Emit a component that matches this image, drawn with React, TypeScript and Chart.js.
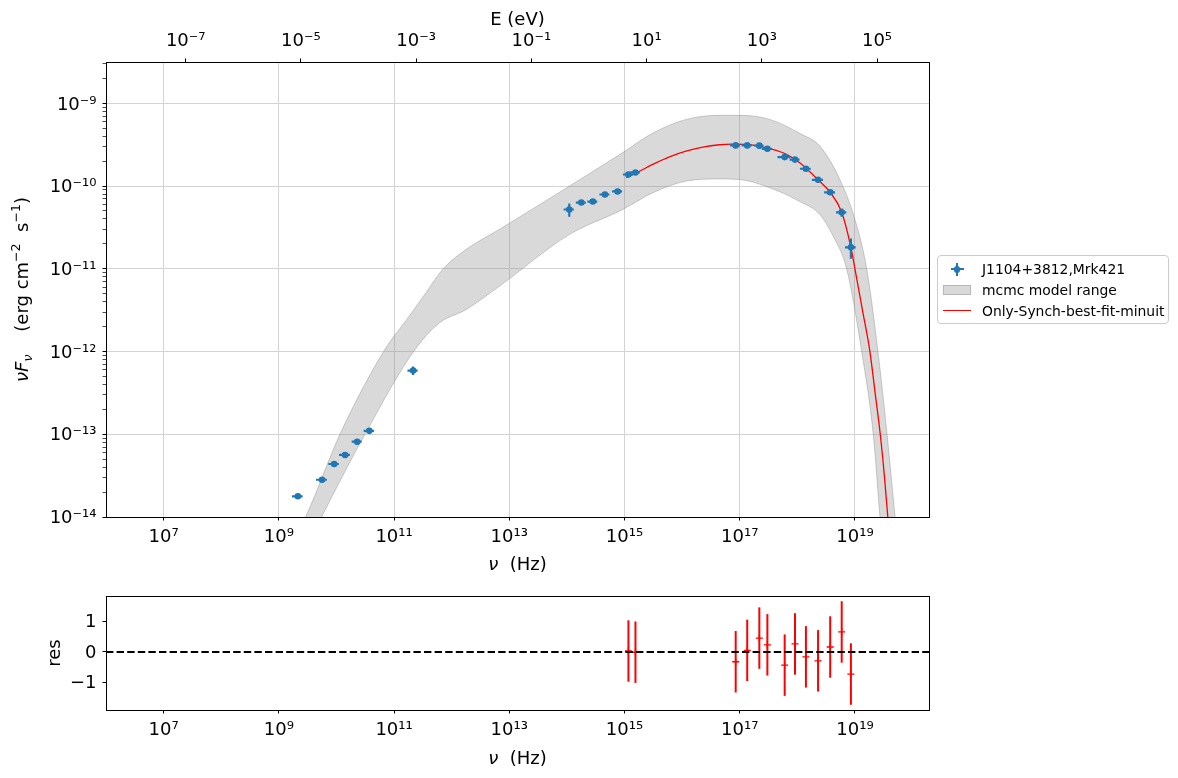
import React, { useEffect, useRef } from 'react';
import { Chart, registerables } from 'chart.js';

Chart.register(...registerables);

// ---------------- data ----------------
const nuData = [2.14e9, 5.62e9, 9.12e9, 1.41e10, 2.29e10, 3.72e10, 2.14e11, 1.10e14, 1.78e14, 2.82e14, 4.57e14, 7.59e14, 1.17e15, 1.55e15, 8.51e16, 1.35e17, 2.19e17, 3.02e17, 6.03e17, 9.12e17, 1.41e18, 2.29e18, 3.72e18, 5.89e18, 8.51e18];
const nuErr = [0.45e9, 1.2e9, 1.9e9, 0.3e10, 0.45e10, 0.75e10, 0.43e11, 0.22e14, 0.35e14, 0.55e14, 0.9e14, 1.5e14, 0.23e15, 0.3e15, 1.7e16, 0.27e17, 0.4e17, 0.6e17, 1.5e17, 1.8e17, 0.3e18, 0.5e18, 0.8e18, 1.2e18, 1.8e18];
const nuFnuData = [1.78e-14, 2.82e-14, 4.37e-14, 5.62e-14, 8.13e-14, 1.10e-13, 5.89e-13, 5.21e-11, 6.32e-11, 6.50e-11, 7.91e-11, 8.61e-11, 1.38e-10, 1.46e-10, 3.10e-10, 3.10e-10, 3.08e-10, 2.82e-10, 2.24e-10, 2.09e-10, 1.62e-10, 1.19e-10, 8.41e-11, 4.82e-11, 1.82e-11];
const nuFnuErr = [0.12e-14, 0.2e-14, 0.3e-14, 0.4e-14, 0.6e-14, 0.08e-13, 0.7e-13, 0.95e-11, 0.3e-11, 0.4e-11, 0.4e-11, 0.5e-11, 0.08e-10, 0.08e-10, 0.15e-10, 0.15e-10, 0.2e-10, 0.15e-10, 0.15e-10, 0.15e-10, 0.1e-10, 0.08e-10, 0.5e-11, 0.55e-11, 0.5e-11];

const modelNu = [1.07e15, 1.82e15, 3.09e15, 6.03e15, 1.17e16, 2.29e16, 4.47e16, 7.59e16, 1.70e17, 3.31e17, 6.46e17, 1.10e18, 2.29e18, 3.72e18, 5.89e18, 8.51e18, 1.0e19, 1.35e19, 1.82e19, 2.24e19, 2.75e19, 3.24e19, 3.72e19, 4.17e19];
const modelNuFnu = [1.26e-10, 1.51e-10, 1.83e-10, 2.26e-10, 2.64e-10, 2.96e-10, 3.16e-10, 3.21e-10, 3.13e-10, 2.83e-10, 2.42e-10, 1.91e-10, 1.19e-10, 8.41e-11, 4.82e-11, 1.82e-11, 1.0e-11, 3.16e-12, 1.0e-12, 3.16e-13, 1.0e-13, 3.16e-14, 1.0e-14, 4.0e-15];

const bandUpperNu = [2.24e9, 2.91e9, 1.18e10, 6.70e10, 1.82e11, 3.56e11, 6.92e11, 1.77e12, 6.70e12, 1.10e14, 9.33e14, 3.10e15, 1.18e16, 4.49e16, 1.0e17, 3.33e17, 1.10e18, 2.46e18, 5.48e18, 1.0e19, 1.60e19, 2.51e19, 3.61e19, 4.97e19, 5.62e19];
const bandUpperNuFnu = [7.1e-15, 1.0e-14, 1.04e-13, 1.02e-12, 2.66e-12, 5.11e-12, 9.77e-12, 1.71e-11, 2.99e-11, 9.98e-11, 2.54e-10, 4.37e-10, 6.40e-10, 7.16e-10, 7.16e-10, 6.40e-10, 4.34e-10, 3.04e-10, 1.20e-10, 3.94e-11, 1.0e-11, 1.0e-12, 1.0e-13, 1.0e-14, 4.0e-15];
const bandLowerNu = [2.24e9, 3.98e9, 5.53e9, 3.22e10, 2.23e11, 6.07e11, 1.77e12, 6.70e12, 1.10e14, 9.33e14, 3.10e15, 1.18e16, 4.49e16, 1.0e17, 3.33e17, 1.10e18, 2.46e18, 4.20e18, 7.18e18, 1.31e19, 2.08e19, 2.72e19, 3.09e19, 5.62e19];
const bandLowerNuFnu = [3.0e-15, 6.3e-15, 1.0e-14, 1.04e-13, 1.02e-12, 2.21e-12, 3.21e-12, 6.14e-12, 2.59e-11, 5.21e-11, 8.30e-11, 1.15e-10, 1.22e-10, 1.20e-10, 9.53e-11, 6.52e-11, 4.53e-11, 2.47e-11, 1.0e-11, 1.0e-12, 1.0e-13, 1.0e-14, 4.0e-15, 1.0e-16];

const residualStart = 12; // first fitted data point
const residuals = [0.03, -0.01, -0.32, 0.05, 0.45, 0.23, -0.43, 0.26, -0.16, -0.29, 0.16, 0.65, -0.72];
const residualErr = [1, 1, 1, 1, 1, 1, 1, 1, 1, 1, 1, 1, 1];

const seriesLabels = ['J1104+3812,Mrk421', 'mcmc model range', 'Only-Synch-best-fit-minuit'];

const xTickExps = [7, 9, 11, 13, 15, 17, 19];
const eTickExps = [-7, -5, -3, -1, 1, 3, 5];
const yTickExps = [-14, -13, -12, -11, -10, -9];
const yMinorMultiples = [2, 3, 4, 5, 6, 7, 8, 9];
const resTicks = [-1, 0, 1];

// ---------------- axis limits & styles ----------------
const X_MIN = 1e6;
const X_MAX = 1.93e20;
const Y_MIN = 1e-14;
const Y_MAX = 3.16e-9;
const RES_MIN = -1.89;
const RES_MAX = 1.82;
const H_EV = 4.135667696e-15; // eV s

const FONT = "'DejaVu Sans', 'Liberation Sans', sans-serif";
const BLUE = '#1f77b4';
const RED = '#ff0000';
const GRID = '#d4d4d4';
const BAND_FILL = 'rgba(128,128,128,0.3)';
const BAND_EDGE = 'rgba(128,128,128,0.38)';

const SUP: Record<string, string> = { '0': '⁰', '1': '¹', '2': '²', '3': '³', '4': '⁴', '5': '⁵', '6': '⁶', '7': '⁷', '8': '⁸', '9': '⁹', '-': '⁻' };
const pow10Label = (e: number) => '10' + String(e).split('').map((c) => SUP[c] ?? c).join('');
const isDecade = (v: number) => {
  const l = Math.log10(v);
  return Math.abs(l - Math.round(l)) < 1e-6;
};

type Seg = { t: string; it?: boolean; sub?: boolean; sup?: boolean };

function drawRich(ctx: CanvasRenderingContext2D, segs: Seg[], x: number, y: number, rot: number, size: number) {
  const small = size * 0.7;
  const fontOf = (s: Seg) => `${s.it ? 'italic ' : ''}${s.sub || s.sup ? small : size}px ${FONT}`;
  ctx.save();
  ctx.translate(x, y);
  ctx.rotate(rot);
  ctx.fillStyle = '#000';
  ctx.textBaseline = 'alphabetic';
  ctx.textAlign = 'left';
  const widths = segs.map((s) => {
    ctx.font = fontOf(s);
    return ctx.measureText(s.t).width;
  });
  let cx = -widths.reduce((a, b) => a + b, 0) / 2;
  segs.forEach((s, i) => {
    ctx.font = fontOf(s);
    const dy = s.sup ? -size * 0.42 : s.sub ? size * 0.22 : 0;
    ctx.fillText(s.t, cx, dy);
    cx += widths[i];
  });
  ctx.restore();
}

const framePlugin = {
  id: 'frame',
  afterDraw(chart: any) {
    const { ctx, chartArea } = chart;
    ctx.save();
    ctx.strokeStyle = '#000';
    ctx.lineWidth = 1;
    const l = Math.round(chartArea.left) + 0.5;
    const t = Math.round(chartArea.top) + 0.5;
    const r = Math.round(chartArea.right) + 0.5;
    const b = Math.round(chartArea.bottom) + 0.5;
    ctx.strokeRect(l, t, r - l, b - t);
    ctx.restore();
  },
};

const errorBarPlugin = {
  id: 'errorBars',
  beforeDatasetDraw(chart: any, args: any) {
    const ds: any = chart.data.datasets[args.index];
    if (!ds.errorBars) return;
    const meta = args.meta;
    const xs = chart.scales[meta.xAxisID];
    const ys = chart.scales[meta.yAxisID];
    const { ctx, chartArea } = chart;
    ctx.save();
    ctx.beginPath();
    ctx.rect(chartArea.left, chartArea.top, chartArea.right - chartArea.left, chartArea.bottom - chartArea.top);
    ctx.clip();
    ctx.strokeStyle = ds.errorBars.color;
    ctx.lineWidth = ds.errorBars.width;
    ds.data.forEach((p: any, i: number) => {
      const xe = ds.errorBars.x ? ds.errorBars.x[i] : 0;
      const ye = ds.errorBars.y ? ds.errorBars.y[i] : 0;
      const px = xs.getPixelForValue(p.x);
      const py = ys.getPixelForValue(p.y);
      ctx.beginPath();
      if (xe) {
        ctx.moveTo(xs.getPixelForValue(p.x - xe), py);
        ctx.lineTo(xs.getPixelForValue(p.x + xe), py);
      }
      if (ye) {
        ctx.moveTo(px, ys.getPixelForValue(p.y - ye));
        ctx.lineTo(px, ys.getPixelForValue(p.y + ye));
      }
      ctx.stroke();
    });
    ctx.restore();
  },
};

function buildLegend(chart: any, el: HTMLDivElement | null) {
  if (!el) return;
  const items = chart.data.datasets
    .filter((d: any) => d.label)
    .sort((a: any, b: any) => a.legendOrder - b.legendOrder);
  el.innerHTML = '';
  items.forEach((d: any) => {
    const row = document.createElement('div');
    row.style.cssText = 'display:flex;align-items:center;height:20.7px;';
    const icon = document.createElement('div');
    icon.style.cssText = 'position:relative;flex:none;width:28px;height:14px;margin-right:11px;';
    const add = (css: string) => {
      const e = document.createElement('div');
      e.style.cssText = 'position:absolute;' + css;
      icon.appendChild(e);
    };
    if (d.legendIcon === 'errorbar') {
      add(`left:7.5px;top:5.9px;width:13px;height:2.2px;background:${d.pointBackgroundColor};`);
      add(`left:12.9px;top:0.5px;width:2.2px;height:13px;background:${d.pointBackgroundColor};`);
      add(`left:10.7px;top:3.7px;width:6.6px;height:6.6px;border-radius:50%;background:${d.pointBackgroundColor};`);
    } else if (d.legendIcon === 'patch') {
      add(`left:0;top:2px;width:28px;height:10px;box-sizing:border-box;background:${d.backgroundColor};border:1px solid ${BAND_EDGE};`);
    } else {
      add(`left:0;top:6.3px;width:28px;height:1.4px;background:${d.borderColor};`);
    }
    const txt = document.createElement('span');
    txt.textContent = d.label;
    txt.style.cssText = `font-family:${FONT};font-size:13.9px;color:#000;white-space:nowrap;`;
    row.appendChild(icon);
    row.appendChild(txt);
    el.appendChild(row);
  });
  const ca = chart.chartArea;
  el.style.left = `${ca.right + 8}px`;
  el.style.top = `${(ca.top + ca.bottom) / 2 - el.offsetHeight / 2}px`;
}

function logXAxis(position: 'top' | 'bottom', min: number, max: number, exps: number[], grid: boolean, height: number) {
  return {
    type: 'logarithmic',
    position,
    min,
    max,
    afterBuildTicks: (s: any) => {
      s.ticks = exps.map((e) => ({ value: Math.pow(10, e) }));
    },
    afterFit: (s: any) => {
      s.height = height;
      s.paddingLeft = 0;
      s.paddingRight = 0;
    },
    ticks: {
      autoSkip: false,
      maxRotation: 0,
      minRotation: 0,
      padding: 6,
      color: '#000',
      font: { size: 18, family: FONT },
      callback: (v: number) => pow10Label(Math.round(Math.log10(v))),
    },
    grid: { drawOnChartArea: grid, color: GRID, lineWidth: 1, tickLength: 3.5, tickColor: '#000', tickWidth: 1 },
    border: { display: true, color: '#000', width: 1 },
  };
}

export default function App() {
  const mainRef = useRef<HTMLCanvasElement | null>(null);
  const resRef = useRef<HTMLCanvasElement | null>(null);
  const legendRef = useRef<HTMLDivElement | null>(null);

  useEffect(() => {
    Chart.defaults.font.family = FONT;
    Chart.defaults.color = '#000';

    const dataPts = nuData.map((x, i) => ({ x, y: nuFnuData[i] }));
    const modelPts = modelNu.map((x, i) => ({ x, y: modelNuFnu[i] }));
    const upperPts = bandUpperNu.map((x, i) => ({ x, y: bandUpperNuFnu[i] }));
    const lowerPts = bandLowerNu.map((x, i) => ({ x, y: bandLowerNuFnu[i] }));
    const resPts = residuals.map((r, i) => ({ x: nuData[residualStart + i], y: r }));

    const legendPlugin = {
      id: 'htmlLegend',
      afterLayout(chart: any) {
        buildLegend(chart, legendRef.current);
      },
    };

    const mainTitles = {
      id: 'mainTitles',
      afterDraw(chart: any) {
        const { ctx, chartArea: ca } = chart;
        const cx = (ca.left + ca.right) / 2;
        drawRich(ctx, [{ t: 'ν', it: true }, { t: '  (Hz)' }], cx, ca.bottom + 53, 0, 18);
        drawRich(ctx, [{ t: 'E (eV)' }], cx, ca.top - 37, 0, 18);
        drawRich(
          ctx,
          [
            { t: 'ν', it: true },
            { t: 'F', it: true },
            { t: 'ν', it: true, sub: true },
            { t: '    (erg cm' },
            { t: '−2', sup: true },
            { t: '  s' },
            { t: '−1', sup: true },
            { t: ')' },
          ],
          ca.left - 78,
          (ca.top + ca.bottom) / 2,
          -Math.PI / 2,
          18
        );
      },
    };

    const resTitles = {
      id: 'resTitles',
      afterDraw(chart: any) {
        const { ctx, chartArea: ca } = chart;
        drawRich(ctx, [{ t: 'ν', it: true }, { t: '  (Hz)' }], (ca.left + ca.right) / 2, ca.bottom + 54, 0, 18);
        drawRich(ctx, [{ t: 'res' }], ca.left - 46.5, (ca.top + ca.bottom) / 2, -Math.PI / 2, 18);
      },
    };

    const mainChart = new Chart(mainRef.current as HTMLCanvasElement, {
      type: 'line',
      data: {
        datasets: [
          {
            label: seriesLabels[0],
            legendOrder: 0,
            legendIcon: 'errorbar',
            data: dataPts,
            showLine: false,
            pointRadius: 3.3,
            pointBackgroundColor: BLUE,
            pointBorderColor: BLUE,
            pointBorderWidth: 0,
            errorBars: { x: nuErr, y: nuFnuErr, color: BLUE, width: 2.2 },
          },
          {
            label: seriesLabels[2],
            legendOrder: 2,
            legendIcon: 'line',
            data: modelPts,
            borderColor: RED,
            borderWidth: 1.3,
            pointRadius: 0,
            cubicInterpolationMode: 'monotone',
            fill: false,
          },
          {
            label: seriesLabels[1],
            legendOrder: 1,
            legendIcon: 'patch',
            data: upperPts,
            borderColor: BAND_EDGE,
            borderWidth: 1,
            backgroundColor: BAND_FILL,
            pointRadius: 0,
            cubicInterpolationMode: 'monotone',
            fill: '+1',
          },
          {
            data: lowerPts,
            borderColor: BAND_EDGE,
            borderWidth: 1,
            pointRadius: 0,
            cubicInterpolationMode: 'monotone',
            fill: false,
          },
        ] as any,
      },
      options: {
        responsive: false,
        animation: false,
        events: [],
        layout: { padding: { left: 0, top: 0, right: 249, bottom: 0 } },
        plugins: { legend: { display: false }, tooltip: { enabled: false } },
        scales: {
          x: logXAxis('bottom', X_MIN, X_MAX, xTickExps, true, 61),
          x2: logXAxis('top', X_MIN * H_EV, X_MAX * H_EV, eTickExps, false, 62),
          y: {
            type: 'logarithmic',
            position: 'left',
            min: Y_MIN,
            max: Y_MAX,
            afterBuildTicks: (s: any) => {
              const t: any[] = [];
              yTickExps.forEach((e) => {
                const base = Math.pow(10, e);
                t.push({ value: base });
                yMinorMultiples.forEach((k) => {
                  const v = k * base;
                  if (v < Y_MAX) t.push({ value: v });
                });
              });
              s.ticks = t;
            },
            afterFit: (s: any) => {
              s.width = 106;
              s.paddingTop = 0;
              s.paddingBottom = 0;
            },
            ticks: {
              autoSkip: false,
              padding: 6,
              labelOffset: 1.5,
              color: '#000',
              font: { size: 18, family: FONT },
              callback: (v: number) => (isDecade(v) ? pow10Label(Math.round(Math.log10(v))) : ''),
            },
            grid: {
              color: (c: any) => (c.tick && isDecade(c.tick.value) ? GRID : 'rgba(0,0,0,0)'),
              lineWidth: 1,
              tickLength: 3.5,
              tickColor: '#000',
              tickWidth: (c: any) => (c.tick && isDecade(c.tick.value) ? 1 : 0.7),
            },
            border: { display: true, color: '#000', width: 1 },
          },
        } as any,
      },
      plugins: [errorBarPlugin, framePlugin, mainTitles, legendPlugin],
    } as any);

    const resChart = new Chart(resRef.current as HTMLCanvasElement, {
      type: 'line',
      data: {
        datasets: [
          {
            data: [
              { x: X_MIN, y: 0 },
              { x: X_MAX, y: 0 },
            ],
            borderColor: '#000',
            borderWidth: 2,
            borderDash: [7.4, 3.2],
            pointRadius: 0,
            fill: false,
          },
          {
            data: resPts,
            showLine: false,
            pointStyle: 'cross',
            pointRadius: 3.5,
            pointBorderColor: RED,
            pointBackgroundColor: RED,
            pointBorderWidth: 1.3,
            errorBars: { y: residualErr, color: RED, width: 2 },
          },
        ] as any,
      },
      options: {
        responsive: false,
        animation: false,
        events: [],
        layout: { padding: { left: 0, top: 18, right: 249, bottom: 0 } },
        plugins: { legend: { display: false }, tooltip: { enabled: false } },
        scales: {
          x: logXAxis('bottom', X_MIN, X_MAX, xTickExps, false, 68),
          y: {
            type: 'linear',
            position: 'left',
            min: RES_MIN,
            max: RES_MAX,
            afterBuildTicks: (s: any) => {
              s.ticks = resTicks.map((v) => ({ value: v }));
            },
            afterFit: (s: any) => {
              s.width = 106;
              s.paddingTop = 0;
              s.paddingBottom = 0;
            },
            ticks: {
              autoSkip: false,
              padding: 6,
              labelOffset: 1,
              color: '#000',
              font: { size: 18, family: FONT },
              callback: (v: number) => (v < 0 ? '−' + Math.abs(v) : String(v)),
            },
            grid: { drawOnChartArea: false, tickLength: 3.5, tickColor: '#000', tickWidth: 1 },
            border: { display: true, color: '#000', width: 1 },
          },
        } as any,
      },
      plugins: [errorBarPlugin, framePlugin, resTitles],
    } as any);

    return () => {
      mainChart.destroy();
      resChart.destroy();
    };
  }, []);

  return (
    <div style={{ position: 'fixed', left: 0, top: 0, width: 1178, height: 778, background: '#fff', overflow: 'hidden' }}>
      <canvas ref={mainRef} width={1178} height={578} style={{ position: 'absolute', left: 0, top: 0 }} />
      <canvas ref={resRef} width={1178} height={200} style={{ position: 'absolute', left: 0, top: 578 }} />
      <div
        ref={legendRef}
        style={{
          position: 'absolute',
          left: 937,
          top: 256,
          border: '1px solid #cccccc',
          borderRadius: 4,
          background: 'rgba(255,255,255,0.8)',
          padding: '3px 4px 2px 5px',
          boxSizing: 'border-box',
          lineHeight: 'normal',
        }}
      />
    </div>
  );
}
